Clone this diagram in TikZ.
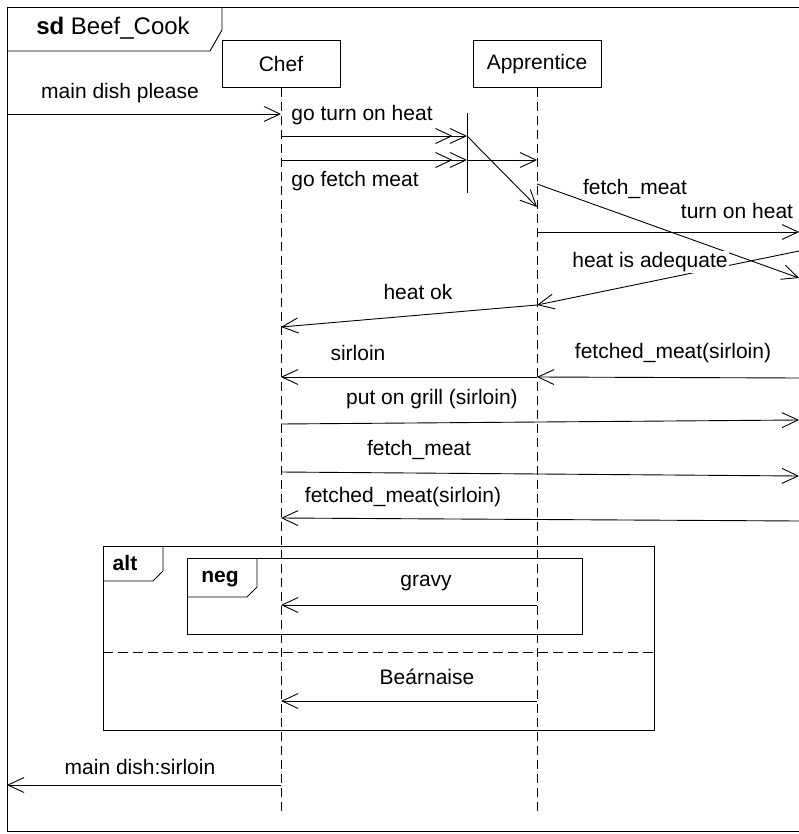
\documentclass[tikz,border=0pt]{standalone}
\usepackage{fontspec}
\setmainfont{Liberation Sans}
\usetikzlibrary{arrows.meta}

\begin{document}
\begin{tikzpicture}[x=1pt,y=-1pt,line width=0.9pt,
  every node/.style={font=\fontsize{21}{25}\selectfont},
  msg/.style={-{Straight Barb[length=16pt,width=15pt]}},
  msgtwo/.style={-{Straight Barb[length=16pt,width=15pt,sep=-3pt]Straight Barb[length=16pt,width=15pt]}},
  lbl/.style={fill=white,inner sep=1pt},
  life/.style={dash pattern=on 9pt off 5pt},
  lifebox/.style={draw,minimum height=47pt}]
\useasboundingbox (0,0) rectangle (799,834);
\clip (0,0) rectangle (799,834);
%frame
\draw (7,7) rectangle (830,831);
\draw (7,51) -- (210,51) -- (222,30) -- (222,7);
\path (113,28) node (sd) [font=\fontsize{24}{28}\selectfont] {\textbf{sd} Beef\_Cook};
%lifelines
\path (281,64) node (chef) [lifebox,minimum width=118pt] {Chef};
\path (537,64) node (appr) [lifebox,minimum width=128pt] {Apprentice};
\path (281,815) coordinate (chefend);
\path (537,815) coordinate (apprend);
\draw [life] (chef.south) to (chefend);
\draw [life] (appr.south) to (apprend);
%message ends
\path (7,114) coordinate (left1);
\path (281,114) coordinate (chef1);
\path (281,136) coordinate (chef2);
\path (281,160) coordinate (chef3);
\path (467,136) coordinate (gate1);
\path (467,160) coordinate (gate2);
\path (467,113) coordinate (gatetop);
\path (467,193) coordinate (gatebot);
\path (537,160) coordinate (appr1);
\path (537,207) coordinate (appr2);
\path (537,184) coordinate (appr3);
\path (799,278) coordinate (right1);
\path (537,232) coordinate (appr4);
\path (799,232) coordinate (right2);
\path (799,251) coordinate (right3);
\path (537,305) coordinate (appr5);
\path (281,327) coordinate (chef4);
\path (537,377) coordinate (appr6);
\path (281,377) coordinate (chef5);
\path (799,378) coordinate (right4);
\path (281,424) coordinate (chef6);
\path (799,420) coordinate (right5);
\path (281,472) coordinate (chef7);
\path (799,476) coordinate (right6);
\path (799,521) coordinate (right7);
\path (281,518) coordinate (chef8);
\path (537,605) coordinate (appr7);
\path (281,605) coordinate (chef9);
\path (537,701) coordinate (appr8);
\path (281,701) coordinate (chef10);
\path (281,785) coordinate (chef11);
\path (7,785) coordinate (left2);

\draw [msg] (left1) to (chef1);
\draw [msgtwo] (chef2) to (gate1);
\draw [msgtwo] (chef3) to (gate2);
\draw (gatetop) to (gatebot);
\draw [msg] (gate1) to (appr2);
\draw [msg] (gate2) to (appr1);
\draw [msg] (appr3) to (right1);
\draw [msg] (appr4) to (right2);
\draw [msg] (right3) to (appr5);
\draw [msg] (appr5) to (chef4);
\draw [msg] (appr6) to (chef5);
\draw [msg] (right4) to (appr6);
\draw [msg] (chef6) to (right5);
\draw [msg] (chef7) to (right6);
\draw [msg] (right7) to (chef8);
\draw [msg] (appr7) to (chef9);
\draw [msg] (appr8) to (chef10);
\draw [msg] (chef11) to (left2);

%labels
\path (120,93) node (l1) [lbl] {main dish please};
\path (362,115) node (l2) [lbl] {go turn on heat};
\path (355,181) node (l3) [lbl] {go fetch meat};
\path (635,189) node (l4) [lbl] {fetch\_meat};
\path (737,211) node (l5) [lbl] {turn on heat};
\path (650,262) node (l6) [lbl] {heat is adequate};
\path (418,292) node (l7) [lbl] {heat ok};
\path (358,353) node (l8) [lbl] {sirloin};
\path (673,353) node (l9) [lbl] {fetched\_meat(sirloin)};
\path (432,399) node (l10) [lbl] {put on grill (sirloin)};
\path (419,450) node (l11) [lbl] {fetch\_meat};
\path (403,497) node (l12) [lbl] {fetched\_meat(sirloin)};
\path (426,583) node (l13) [lbl] {gravy};
\path (427,677) node (l14) [lbl] {Beárnaise};
\path (140,767) node (l15) [lbl] {main dish:sirloin};

%fragments
\draw (103,546) rectangle (654,730);
\draw (103,581) -- (153,581) -- (163,571) -- (163,546);
\path (125,563) node (alt) {\textbf{alt}};
\draw [dash pattern=on 10pt off 5pt] (103,652) -- (654,652);
\draw (187,558) rectangle (582,634);
\draw (187,597) -- (247,597) -- (257,587) -- (257,558);
\path (220,579) node (neg) {\textbf{neg}};
\end{tikzpicture}
\end{document}
